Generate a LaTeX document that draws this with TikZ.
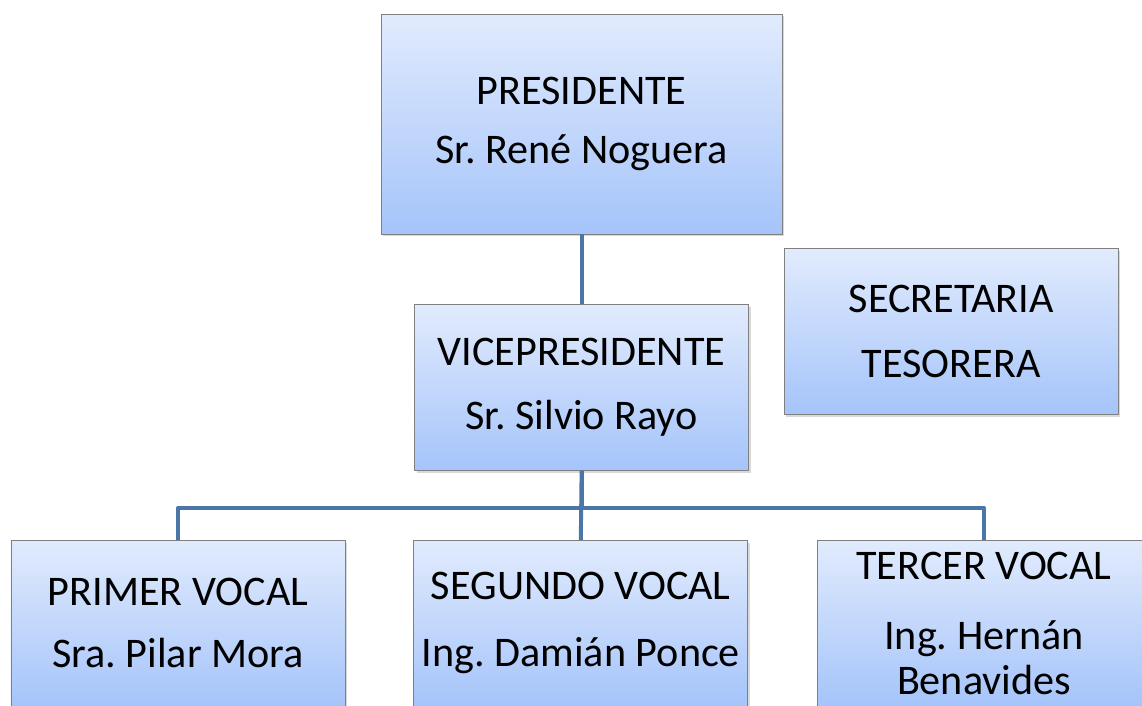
\documentclass[tikz,border=0pt]{standalone}
\usepackage{fontspec}
\setmainfont{Carlito}
\usetikzlibrary{shadows}
\definecolor{boxtop}{RGB}{225,235,253}
\definecolor{boxbot}{RGB}{165,196,250}
\definecolor{boxline}{RGB}{128,128,128}
\definecolor{linkblue}{RGB}{74,118,168}
\tikzset{
  post/.style={draw=boxline,line width=0.6pt,top color=boxtop,bottom color=boxbot,
    minimum width=8.35cm,minimum height=4.15cm,align=center,inner sep=0pt,
    font=\fontsize{30}{32}\selectfont\frenchspacing,
    drop shadow={opacity=0.3,shadow xshift=0.05cm,shadow yshift=-0.06cm}},
  link/.style={draw=linkblue,line width=2.8pt,line join=round},
}
\begin{document}
\begin{tikzpicture}
  \clip (0,0) rectangle (28.55,-17.625);
  \node[post,minimum width=10.03cm,minimum height=5.5cm] (pres) at (14.54,-3.1)
    {PRESIDENTE\\[0.36cm]Sr. René Noguera};
  \node[post] (sec) at (23.78,-8.29) {SECRETARIA\\[0.5cm]TESORERA};
  \node[post] (vp) at (14.54,-9.68) {VICEPRESIDENTE\\[0.5cm]Sr. Silvio Rayo};
  \node[post] (v1) at (4.45,-15.58) {PRIMER VOCAL\\[0.43cm]Sra. Pilar Mora};
  \node[post] (v2) at (14.52,-15.58) {SEGUNDO VOCAL\\[0.55cm]Ing. Damián Ponce};
  \node[post] (v3) at (24.6,-15.58) {TERCER VOCAL\\[0.62cm]Ing. Hernán\\Benavides};
  % connectors
  \draw[link] (pres.south) -- (vp.north);
  \draw[link] (vp.south) -- ++(0,-0.93) -| (v1.north);
  \draw[link] (vp.south) -- ++(0,-0.93) -| (v3.north);
  \draw[link] (vp.south) -- (v2.north);
\end{tikzpicture}
\end{document}
